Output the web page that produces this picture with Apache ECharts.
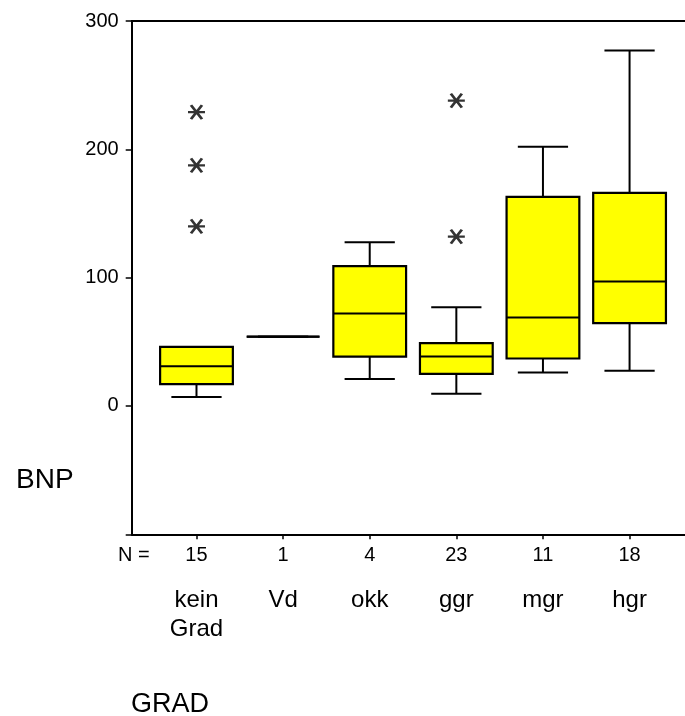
<!DOCTYPE html>
<html>
<head>
<meta charset="utf-8">
<script src="https://cdn.jsdelivr.net/npm/echarts@6/dist/echarts.min.js"></script>
<style>
  html, body { margin: 0; padding: 0; background: #fff; }
  #chart { width: 685px; height: 716px; }
</style>
</head>
<body>
<div id="chart"></div>
<script>
'use strict'

// BNP by GRAD, SPSS style boxplot
var categories = ['kein\nGrad', 'Vd', 'okk', 'ggr', 'mgr', 'hgr'];
var nCounts = [15, 1, 4, 23, 11, 18];
var lowerWhisker = [7, 54, 21, 9.5, 26, 27.5];
var q1 = [17, 54, 38.5, 25, 37, 64.5];
var median = [31, 54, 72, 38.5, 69, 97];
var q3 = [46, 54, 109, 49, 163, 166];
var upperWhisker = [46, 54, 127.5, 77, 202, 277];
// extreme values: [category index, value]
var extremes = [[0, 229], [0, 187.5], [0, 140], [3, 238], [3, 132]];
var yTicks = [-100, 0, 100, 200, 300];

var catIdx = categories.map(function (c, i) { return i; });
var boxData = catIdx.map(function (i) {
    return [i, lowerWhisker[i], q1[i], median[i], q3[i], upperWhisker[i]];
});

var font = 'Liberation Sans';
var chart = echarts.init(document.getElementById('chart'));

function renderBox(params, api) {
    var x = api.value(0);
    var lw = api.coord([x, api.value(1)]);
    var b1 = api.coord([x, api.value(2)]);
    var md = api.coord([x, api.value(3)]);
    var b3 = api.coord([x, api.value(4)]);
    var uw = api.coord([x, api.value(5)]);
    var bw = api.size([0.84, 0])[0];
    var cw = api.size([0.58, 0])[0];
    var line = { stroke: '#000', lineWidth: 2 };
    var cx = md[0];
    return {
        type: 'group',
        children: [
            { type: 'line', shape: { x1: cx, y1: uw[1], x2: cx, y2: b3[1] }, style: line },
            { type: 'line', shape: { x1: cx, y1: b1[1], x2: cx, y2: lw[1] }, style: line },
            { type: 'line', shape: { x1: cx - cw / 2, y1: uw[1], x2: cx + cw / 2, y2: uw[1] }, style: line },
            { type: 'line', shape: { x1: cx - cw / 2, y1: lw[1], x2: cx + cw / 2, y2: lw[1] }, style: line },
            { type: 'rect', shape: { x: cx - bw / 2, y: b3[1], width: bw, height: b1[1] - b3[1] },
              style: { fill: '#ffff00', stroke: '#000', lineWidth: 2.2 } },
            { type: 'line', shape: { x1: cx - bw / 2, y1: md[1], x2: cx + bw / 2, y2: md[1] }, style: line }
        ]
    };
}

chart.setOption({
    animation: false,
    backgroundColor: '#fff',
    grid: { left: 131.7, right: 0, top: 21, bottom: 181.7 },
    xAxis: [{
        type: 'value',
        position: 'bottom',
        min: -0.748,
        max: 5.64,
        splitLine: { show: false },
        axisLine: { onZero: false, lineStyle: { color: '#000', width: 2 } },
        axisTick: { customValues: catIdx, length: 5, lineStyle: { color: '#000', width: 1.5 } },
        axisLabel: {
            customValues: catIdx,
            formatter: function (v) { return String(nCounts[v]); },
            fontFamily: font, fontSize: 20, color: '#000', margin: 11.5, lineHeight: 20
        }
    }, {
        type: 'value',
        position: 'bottom',
        min: -0.748,
        max: 5.64,
        splitLine: { show: false },
        axisLine: { show: false, onZero: false },
        axisTick: { show: false },
        axisLabel: {
            customValues: catIdx,
            formatter: function (v) { return categories[v]; },
            fontFamily: font, fontSize: 24, color: '#000', margin: 52, lineHeight: 29
        }
    }, {
        type: 'value',
        position: 'top',
        min: -0.748,
        max: 5.64,
        splitLine: { show: false },
        axisLine: { onZero: false, lineStyle: { color: '#000', width: 2 } },
        axisTick: { show: false },
        axisLabel: { show: false }
    }],
    yAxis: {
        type: 'value',
        min: yTicks[0],
        max: yTicks[yTicks.length - 1],
        interval: 100,
        splitLine: { show: false },
        axisLine: { show: true, onZero: false, lineStyle: { color: '#000', width: 2 } },
        axisTick: { show: true, length: 6, lineStyle: { color: '#000', width: 1.5 } },
        axisLabel: {
            fontFamily: font, fontSize: 20, color: '#000', margin: 13,
            formatter: function (v) { return v < 0 ? '' : String(v); }
        }
    },
    graphic: [
        { type: 'text', left: 16, top: 466, style: { text: 'BNP', font: '28px "Liberation Sans"', fill: '#000' } },
        { type: 'text', left: 118, top: 545, style: { text: 'N =', font: '20px "Liberation Sans"', fill: '#000' } },
        { type: 'text', left: 131, top: 691, style: { text: 'GRAD', font: '27px "Liberation Sans"', fill: '#000' } }
    ],
    series: [{
        type: 'custom',
        name: 'BNP',
        xAxisIndex: 0,
        renderItem: renderBox,
        encode: { x: 0, y: [1, 2, 3, 4, 5] },
        data: boxData,
        z: 2
    }, {
        type: 'scatter',
        xAxisIndex: 0,
        symbol: 'path://M0,7 L17,7 M3,0 L14,14 M3,14 L14,0',
        symbolSize: [17, 14],
        itemStyle: { color: 'transparent', borderColor: '#000', borderWidth: 2.6 },
        data: extremes,
        z: 3
    }]
});
</script>
</body>
</html>
